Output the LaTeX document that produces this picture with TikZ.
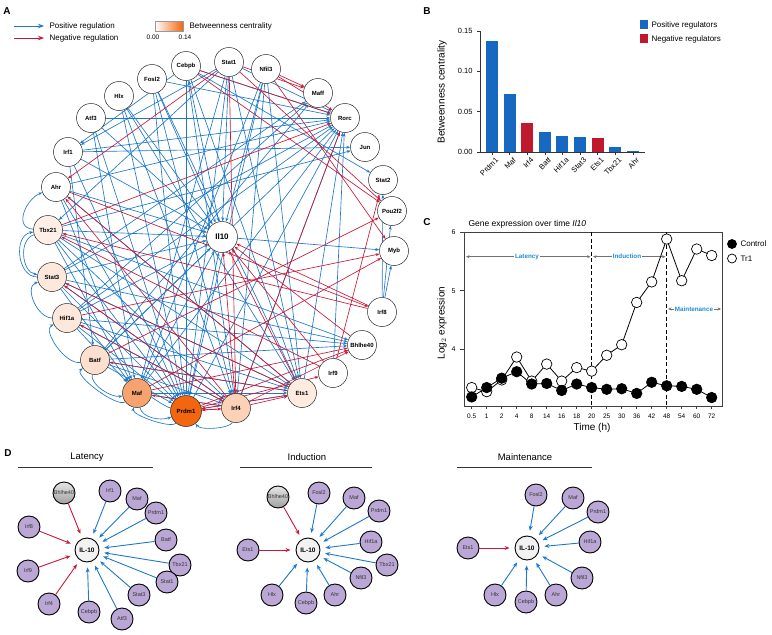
\documentclass[tikz,border=0pt]{standalone}
\usepackage{fontspec}
\setmainfont{Liberation Sans}
\usetikzlibrary{arrows.meta}
\definecolor{posc}{RGB}{30,120,200}
\definecolor{negc}{RGB}{200,25,55}
\definecolor{orA}{RGB}{242,102,15}
\definecolor{barblue}{RGB}{22,104,192}
\definecolor{barred}{RGB}{192,24,44}
\definecolor{purp}{RGB}{187,167,214}
\definecolor{phasec}{RGB}{30,140,210}
\pgfdeclarelayer{bg}
\pgfsetlayers{bg,main}
\begin{document}
\begin{tikzpicture}[x=1pt,y=-1pt,
  gn/.style={circle,draw=black!85,line width=0.5pt,minimum size=29pt,inner sep=0pt,font=\fontsize{6}{6}\selectfont\bfseries},
  posedge/.style={draw=posc,line width=0.65pt,-{Stealth[length=4pt,width=3pt]}},
  negedge/.style={draw=negc,line width=0.65pt,-{Stealth[length=4pt,width=3pt]}},
  lgpos/.style={draw=posc,line width=0.9pt,-{Stealth[length=6pt,width=4.5pt]}},
  lgneg/.style={draw=negc,line width=0.9pt,-{Stealth[length=6pt,width=4.5pt]}},
  panel/.style={font=\fontsize{10}{10}\selectfont\bfseries},
  dn/.style={circle,draw=black,line width=0.9pt,fill=purp,minimum size=22pt,inner sep=0pt,
     label={[font=\fontsize{5.5}{5.5}\selectfont,text=black!80]center:#1}},
  dbh/.style={circle,draw=black,line width=0.9pt,top color=gray!20,bottom color=gray!75,minimum size=22pt,inner sep=0pt,
     label={[font=\fontsize{5.5}{5.5}\selectfont,text=black!80]center:Bhlhe40}},
  dil/.style={circle,draw=black,line width=0.9pt,fill=black!5,minimum size=24pt,inner sep=0pt,font=\fontsize{6.5}{6.5}\selectfont\bfseries},
  dpos/.style={draw=posc,line width=0.9pt,shorten >=5pt,-{Stealth[length=5pt,width=4pt]}},
  dneg/.style={draw=negc,line width=0.9pt,shorten >=5pt,-{Stealth[length=5pt,width=4pt]}},
  dtitle/.style={font=\fontsize{9.5}{9.5}\selectfont},
  phase/.style={draw=black!55,line width=0.8pt,{Stealth[length=3.5pt,width=3pt]}-{Stealth[length=3.5pt,width=3pt]}},
  phlab/.style={fill=white,inner sep=1.2pt,text=phasec,font=\fontsize{6.3}{6.3}\selectfont\bfseries},
  mk/.style={circle,draw=black,line width=0.7pt,minimum size=10.5pt,inner sep=0pt}
]
\useasboundingbox (0,0) rectangle (772,635);

% ================= Panel A =================
\node[panel] (lA) at (7,11) {A};
\coordinate (pa1) at (14,26); \coordinate (pa2) at (44,26);
\coordinate (na1) at (14,38); \coordinate (na2) at (44,38);
\draw[lgpos] (pa1) -- (pa2);
\draw[lgneg] (na1) -- (na2);
\node[anchor=west,font=\fontsize{8}{8}\selectfont] (lgp) at (46,26) {Positive regulation};
\node[anchor=west,font=\fontsize{8}{8}\selectfont] (lgn) at (46,38.5) {Negative regulation};
\shade[left color=white,right color=orA] (155,21) rectangle (183,31);
\draw[black!40,line width=0.3pt] (155,21) rectangle (183,31);
\node[anchor=west,font=\fontsize{8}{8}\selectfont] (lgb) at (186,26) {Betweenness centrality};
\node[font=\fontsize{6.5}{6.5}\selectfont] (lg0) at (153,37.5) {0.00};
\node[font=\fontsize{6.5}{6.5}\selectfont] (lg1) at (185,37.5) {0.14};

\foreach \n/\x/\y/\lab/\f in {
  stat1/229/62/Stat1/0, nfil3/266/69/Nfil3/0, cebpb/186/66/Cebpb/0, fosl2/152/79/Fosl2/0,
  hlx/119/96/Hlx/0, atf3/91/118/Atf3/0, irf1/68/152/Irf1/0, ahr/56/187/Ahr/0,
  tbx21/48/230/Tbx21/10, stat3/52/277/Stat3/15, hif1a/67/318/Hif1a/15, batf/95/360/Batf/20,
  maf/137/393/Maf/60, irf4/236/408/Irf4/30, ets1/302/393/Ets1/13,
  irf9/333/373/Irf9/0, bhlhe40/362/345/Bhlhe40/0, irf8/382/312/Irf8/0, myb/394/251/Myb/0,
  pou2f2/392/211/Pou2f2/0, stat2/383/180/Stat2/0, jun/365/147/Jun/0, rorc/345/118/Rorc/0,
  maff/318/93/Maff/0}
  \node[gn,fill=orA!\f] (\n) at (\x,\y) {\lab};
\node[gn,fill=orA,minimum size=31pt] (prdm1) at (186,411) {Prdm1};
\node[gn,fill=white,minimum size=31pt,font=\fontsize{8}{8}\selectfont\bfseries] (il10) at (222,237) {Il10};

\begin{pgfonlayer}{bg}
\foreach \s/\t in {
  irf1/il10, maf/il10, prdm1/il10, batf/il10, tbx21/il10, stat1/il10, stat3/il10, atf3/il10,
  cebpb/il10, fosl2/il10, hif1a/il10, nfil3/il10, ahr/il10, hlx/il10,
  atf3/rorc, irf1/rorc, ahr/rorc, stat3/rorc, hif1a/rorc, batf/rorc, maf/rorc, prdm1/rorc,
  stat1/rorc, cebpb/rorc, irf4/rorc, ets1/rorc, fosl2/rorc,
  hif1a/bhlhe40, stat3/bhlhe40, batf/bhlhe40, tbx21/bhlhe40,
  stat3/ets1, tbx21/ets1, hif1a/ets1, batf/ets1, stat1/ets1, cebpb/ets1, fosl2/ets1, ahr/ets1,
  tbx21/prdm1, stat3/prdm1, hif1a/prdm1, batf/prdm1, ahr/prdm1, irf1/prdm1,
  cebpb/prdm1, stat1/prdm1, fosl2/prdm1, hlx/prdm1, atf3/prdm1, nfil3/prdm1,
  stat3/maf, hif1a/maf, tbx21/maf, ahr/maf, stat1/maf, nfil3/maf,
  irf8/stat2, cebpb/stat2, irf8/myb, il10/myb, irf8/pou2f2,
  cebpb/irf1, stat1/irf1, irf1/jun, tbx21/jun,
  stat3/maff, hif1a/maff, batf/maff,
  stat1/tbx21, maf/irf4, batf/irf4, stat3/irf4, tbx21/irf4, hif1a/irf4,
  nfil3/ets1, nfil3/irf4, hlx/ets1, fosl2/irf4, cebpb/irf4,
  prdm1/ets1, maf/ets1, irf1/batf, atf3/maf, hlx/irf4, irf9/rorc}
  \draw[posedge] (\s) -- (\t);
\foreach \s/\t in {
  bhlhe40/il10, irf8/il10, irf9/il10, irf4/il10, ets1/il10,
  stat1/maff, nfil3/maff, nfil3/rorc, cebpb/rorc, tbx21/rorc,
  cebpb/pou2f2, nfil3/myb, stat1/pou2f2, stat1/ahr, stat1/irf4,
  hif1a/myb, batf/pou2f2, irf4/ahr, ets1/ahr, irf9/tbx21, ets1/stat3,
  irf4/stat3, irf4/hif1a, ets1/prdm1, irf4/prdm1, prdm1/irf4, irf4/maf,
  maf/bhlhe40, prdm1/bhlhe40, irf4/bhlhe40, irf4/rorc, ahr/irf8,
  irf9/stat2, ets1/batf, irf8/tbx21, prdm1/irf9, maf/myb, irf4/ets1}
  \draw[negedge] (\s) -- (\t);
% curved edges along the outer ring
\draw[posedge] (tbx21) .. controls +(-35,-2) and +(-30,12) .. (ahr);
\draw[posedge] (stat3) .. controls +(-35,0) and +(-35,5) .. (tbx21);
\draw[posedge] (tbx21) .. controls +(-30,10) and +(-30,-5) .. (stat3);
\draw[posedge] (hif1a) .. controls +(-30,0) and +(-28,10) .. (stat3);
\draw[posedge] (batf) .. controls +(-30,5) and +(-25,12) .. (hif1a);
\draw[posedge] (maf) .. controls +(-20,15) and +(-22,15) .. (batf);
\draw[posedge] (batf) .. controls +(-5,25) and +(-25,5) .. (maf);
\draw[posedge] (prdm1) .. controls +(-15,18) and +(-5,22) .. (maf);
\draw[posedge] (maf) .. controls +(5,25) and +(-25,10) .. (prdm1);
\draw[posedge] (irf4) .. controls +(-5,20) and +(15,20) .. (prdm1);
\draw[posedge] (prdm1) .. controls +(-25,-5) and +(-15,-18) .. (maf);
\end{pgfonlayer}

% ================= Panel B =================
\node[panel] (lB) at (427,11) {B};
\draw[black!80,line width=0.7pt] (480,31) -- (480,152) -- (645,152);
\foreach \v/\lab in {0/0.00,0.05/0.05,0.10/0.10,0.15/0.15}{
  \draw[black!80,line width=0.6pt] (477,{152-\v*806.7}) -- (480,{152-\v*806.7});
  \node[anchor=east,font=\fontsize{7.5}{7.5}\selectfont] at (476,{152-\v*806.7}) {\lab};
}
\node[rotate=90,font=\fontsize{10}{10}\selectfont] (bylab) at (442,92) {Betweenness centrality};
\foreach \lab/\v/\c [count=\i from 0] in {Prdm1/0.138/barblue, Maf/0.072/barblue, Irf4/0.036/barred,
   Batf/0.025/barblue, Hif1a/0.020/barblue, Stat3/0.018/barblue, Ets1/0.017/barred,
   Tbx21/0.006/barblue, Ahr/0.0015/barblue}{
  \fill[\c] ({492+17.6*\i-6},152) rectangle ({492+17.6*\i+6},{152-\v*806.7});
  \draw[black!80,line width=0.6pt] ({492+17.6*\i},152) -- ({492+17.6*\i},155);
  \node[rotate=45,anchor=north east,inner sep=0.5pt,font=\fontsize{7.5}{7.5}\selectfont] at ({492+17.6*\i+3},156) {\lab};
}
\fill[barblue] (640,20) rectangle (648,29);
\node[anchor=west,font=\fontsize{8}{8}\selectfont] (bl1) at (648,25) {Positive regulators};
\fill[barred] (640,34) rectangle (648,43);
\node[anchor=west,font=\fontsize{8}{8}\selectfont] (bl2) at (648,39) {Negative regulators};

% ================= Panel C =================
\node[panel] (lC) at (427,222) {C};
\node[anchor=west,font=\fontsize{8.5}{8.5}\selectfont] (ctitle) at (465,224) {Gene expression over time \textit{Il10}};
\draw[black!75,line width=0.7pt] (464,232) rectangle (722,406);
\foreach \v in {4,5,6}{
  \draw[black!75,line width=0.6pt] (460,{232+(6-\v)*58.7}) -- (464,{232+(6-\v)*58.7});
  \node[anchor=east,font=\fontsize{7}{7}\selectfont] at (459,{232+(6-\v)*58.7}) {\v};
}
\foreach \lab [count=\i from 0] in {0.5,1,2,4,8,14,16,18,20,25,30,36,42,48,54,60,72}{
  \draw[black!75,line width=0.6pt] ({471.7+15*\i},406) -- ({471.7+15*\i},409);
  \node[font=\fontsize{6.5}{6.5}\selectfont] at ({471.7+15*\i},416) {\lab};
}
\node[font=\fontsize{10}{10}\selectfont] (cxlab) at (592,428) {Time (h)};
\node[rotate=90,font=\fontsize{10}{10}\selectfont] (cylab) at (442,323) {Log$_2$ expression};
\draw[line width=0.8pt,dash pattern=on 4pt off 2.5pt] (591.7,232) -- (591.7,406);
\draw[line width=0.8pt,dash pattern=on 4pt off 2.5pt] (666.7,232) -- (666.7,406);
\coordinate (ph1) at (466,256.7); \coordinate (ph2) at (590.5,256.7);
\coordinate (ph3) at (593,256.7); \coordinate (ph4) at (665.5,256.7);
\coordinate (ph5) at (668,309); \coordinate (ph6) at (721,309);
\draw[phase] (ph1) -- (ph2);
\draw[phase] (ph3) -- (ph4);
\draw[phase] (ph5) -- (ph6);
\node[phlab] (phl1) at (527,256.7) {Latency};
\node[phlab] (phl2) at (627,256.7) {Induction};
\node[phlab] (phl3) at (694,309) {Maintenance};
\foreach \v [count=\i from 0] in {3.35,3.28,3.48,3.87,3.46,3.75,3.46,3.69,3.63,3.90,4.08,4.80,5.15,5.88,5.17,5.71,5.60}
  \coordinate (t\i) at ({471.7+15*\i},{232+(6-\v)*58.7});
\foreach \v [count=\i from 0] in {3.19,3.35,3.51,3.62,3.41,3.42,3.30,3.41,3.35,3.32,3.33,3.25,3.44,3.38,3.37,3.32,3.18}
  \coordinate (c\i) at ({471.7+15*\i},{232+(6-\v)*58.7});
\draw[black,line width=0.8pt] (t0) \foreach \i in {1,...,16}{ -- (t\i)};
\draw[black,line width=0.8pt] (c0) \foreach \i in {1,...,16}{ -- (c\i)};
\foreach \i in {0,...,16} \node[mk,fill=white] at (t\i) {};
\foreach \i in {0,...,16} \node[mk,fill=black] at (c\i) {};
\node[mk,fill=black,minimum size=9pt] (lgc) at (732,244) {};
\node[mk,fill=white,minimum size=9pt] (lgt) at (732,258.5) {};
\node[anchor=west,font=\fontsize{8}{8}\selectfont] (lgct) at (737,244) {Control};
\node[anchor=west,font=\fontsize{8}{8}\selectfont] (lgtt) at (737,258.5) {Tr1};

% ================= Panel D =================
\node[panel] (lD) at (8,453) {D};
\node[dtitle] (dt1) at (87,457) {Latency};
\node[dtitle] (dt2) at (307,457) {Induction};
\node[dtitle] (dt3) at (525,457) {Maintenance};
\draw[black!80,line width=0.9pt] (18,467) -- (153,467);
\draw[black!80,line width=0.9pt] (240,467) -- (372,467);
\draw[black!80,line width=0.9pt] (457,467) -- (592,467);

% Latency
\node[dil] (lil) at (87,550) {IL-10};
\node[dbh] (lbh) at (64,493) {};
\foreach \n/\x/\y/\lab in {li1/110/491/Irf1, lmf/137/499/Maf, lpr/156/513/Prdm1, lbt/166/540/Batf,
   ltb/180/565/Tbx21, ls1/167/582/Stat1, ls3/139/595/Stat3, la3/122/619/Atf3, lcb/89/612/Cebpb}{
  \node[dn=\lab] (\n) at (\x,\y) {};
  \draw[dpos] (\n) -- (lil);
}
\foreach \n/\x/\y/\lab in {li4/49/604/Irf4, li9/28/571/Irf9, li8/29/527/Irf8}{
  \node[dn=\lab] (\n) at (\x,\y) {};
  \draw[dneg] (\n) -- (lil);
}
\draw[dneg] (lbh) -- (lil);

% Induction
\node[dil] (iil) at (308,550) {IL-10};
\node[dbh] (ibh) at (278,497) {};
\foreach \n/\x/\y/\lab in {ifo/319/493/Fosl2, imf/354/498/Maf, ipr/379/511/Prdm1, ihf/371/542/Hif1a,
   itb/387/565/Tbx21, inf/361/578/Nfil3, iah/335/595/Ahr, icb/306/603/Cebpb, ihl/272/595/Hlx}{
  \node[dn=\lab] (\n) at (\x,\y) {};
  \draw[dpos] (\n) -- (iil);
}
\node[dn=Ets1] (iet) at (248,550) {};
\draw[dneg] (iet) -- (iil);
\draw[dneg] (ibh) -- (iil);

% Maintenance
\node[dil] (mil) at (527,548) {IL-10};
\foreach \n/\x/\y/\lab in {mfo/536/495/Fosl2, mmf/573/498/Maf, mpr/598/512/Prdm1, mhf/590/542/Hif1a,
   mnf/582/578/Nfil3, mah/556/595/Ahr, mcb/526/602/Cebpb, mhl/495/595/Hlx}{
  \node[dn=\lab] (\n) at (\x,\y) {};
  \draw[dpos] (\n) -- (mil);
}
\node[dn=Ets1] (met) at (468,548) {};
\draw[dneg] (met) -- (mil);
\end{tikzpicture}
\end{document}
